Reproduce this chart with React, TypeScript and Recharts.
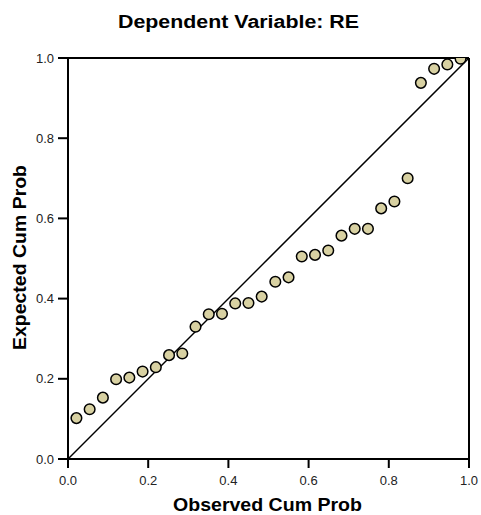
import {
  ReferenceLine,
  Scatter,
  ScatterChart,
  XAxis,
  YAxis,
} from 'recharts'

// observed cumulative probability (x) of each residual
const observedCumProb = [
  0.021, 0.054, 0.087, 0.12, 0.153, 0.186, 0.219, 0.252, 0.285, 0.318,
  0.351, 0.384, 0.417, 0.45, 0.483, 0.517, 0.55, 0.583, 0.616, 0.649,
  0.682, 0.715, 0.748, 0.781, 0.814, 0.847, 0.88, 0.913, 0.946, 0.979,
]

// expected cumulative probability (y)
const expectedCumProb = [
  0.102, 0.124, 0.153, 0.199, 0.203, 0.218, 0.229, 0.259, 0.263, 0.33,
  0.361, 0.362, 0.388, 0.389, 0.405, 0.442, 0.453, 0.505, 0.509, 0.52,
  0.557, 0.574, 0.574, 0.625, 0.642, 0.7, 0.938, 0.973, 0.984, 0.998,
]

const axisTicks = [0, 0.2, 0.4, 0.6, 0.8, 1.0]

const points = observedCumProb.map((x, i) => ({ x, y: expectedCumProb[i] }))

const W = 481
const H = 515
const FONT = '"Liberation Sans", Arial, sans-serif'

function Dot(props: any) {
  const { cx, cy } = props
  if (cx == null || cy == null) return null
  return (
    <circle
      cx={cx}
      cy={cy}
      r={5.3}
      fill="#d8d1a2"
      stroke="#000"
      strokeWidth={1.5}
    />
  )
}

export default function App() {
  const tickStyle = { fontSize: 13, fill: '#222', fontFamily: FONT }
  return (
    <div
      style={{
        position: 'absolute',
        left: 0,
        top: 0,
        width: W,
        height: H,
        background: '#fff',
      }}
    >
      <ScatterChart
        width={W}
        height={H}
        margin={{ top: 58, right: 12, bottom: 0, left: 0 }}
      >
        <XAxis
          type="number"
          dataKey="x"
          domain={[0, 1]}
          ticks={axisTicks}
          tickFormatter={(v) => Number(v).toFixed(1)}
          height={56}
          tickSize={9}
          tickMargin={8}
          tick={tickStyle}
          axisLine={{ stroke: '#000', strokeWidth: 2 }}
          tickLine={{ stroke: '#000', strokeWidth: 2 }}
          allowDataOverflow
        />
        <YAxis
          type="number"
          dataKey="y"
          domain={[0, 1]}
          ticks={axisTicks}
          tickFormatter={(v) => Number(v).toFixed(1)}
          width={68}
          tickSize={10}
          tickMargin={4}
          tick={tickStyle}
          axisLine={{ stroke: '#000', strokeWidth: 2 }}
          tickLine={{ stroke: '#000', strokeWidth: 2 }}
          allowDataOverflow
        />
        <ReferenceLine y={1} stroke="#000" strokeWidth={2} />
        <ReferenceLine x={1} stroke="#000" strokeWidth={2} />
        <ReferenceLine
          segment={[
            { x: 0, y: 0 },
            { x: 1, y: 1 },
          ]}
          stroke="#000"
          strokeWidth={1.5}
        />
        <Scatter
          data={points}
          shape={<Dot />}
          isAnimationActive={false}
        />
      </ScatterChart>
      <svg
        width={W}
        height={H}
        style={{ position: 'absolute', left: 0, top: 0, pointerEvents: 'none' }}
      >
        <text
          x={238.5}
          y={28}
          textAnchor="middle"
          fontFamily={FONT}
          fontWeight="bold"
          fontSize={18}
          textLength={241}
          lengthAdjust="spacingAndGlyphs"
          fill="#000"
        >
          Dependent Variable: RE
        </text>
        <text
          x={267.5}
          y={511}
          textAnchor="middle"
          fontFamily={FONT}
          fontWeight="bold"
          fontSize={18}
          textLength={189}
          lengthAdjust="spacingAndGlyphs"
          fill="#000"
        >
          Observed Cum Prob
        </text>
        <text
          transform="translate(26, 257.5) rotate(-90)"
          textAnchor="middle"
          fontFamily={FONT}
          fontWeight="bold"
          fontSize={18}
          textLength={185}
          lengthAdjust="spacingAndGlyphs"
          fill="#000"
        >
          Expected Cum Prob
        </text>
      </svg>
    </div>
  )
}
